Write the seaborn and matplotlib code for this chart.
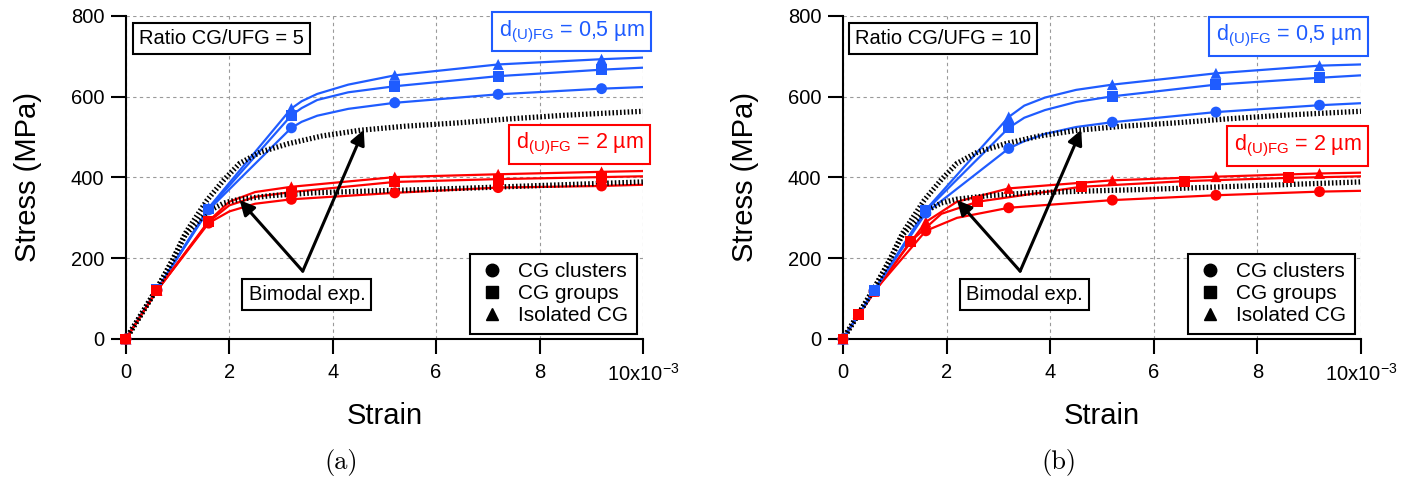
import pandas as pd
import seaborn as sns
import matplotlib.pyplot as plt
import matplotlib.lines as mlines

sns.set_style('ticks')
plt.rcParams['font.family'] = ['Liberation Sans', 'DejaVu Sans']
plt.rcParams['mathtext.fontset'] = 'custom'
plt.rcParams['mathtext.rm'] = 'Liberation Sans'
plt.rcParams['mathtext.it'] = 'Liberation Sans:italic'
for k in ['text.color', 'axes.labelcolor', 'xtick.color', 'ytick.color', 'axes.edgecolor']:
    plt.rcParams[k] = 'black'

BLUE = '#1f5cff'
RED = '#ff0000'
FS = 14.5

# strain in 10^-3, stress in MPa
mark_strain = [0, 0.6, 1.6, 3.2, 5.2, 7.2, 9.2]
b_groups_red_marks = [0, 0.3, 1.3, 2.6, 4.6, 6.6, 8.6]

# bimodal experiment (same curves in both panels)
exp_up_strain = [0, 0.3, 0.6, 0.9, 1.15, 1.57, 1.9, 2.2, 2.6, 3.15, 3.8, 4.53, 5.4, 6.39, 7.4, 8.46, 10]
exp_up_stress = [0, 62, 125, 195, 262, 344, 395, 435, 463, 484, 503, 517, 527, 535, 545, 554, 564]
exp_lo_strain = [0, 0.3, 0.6, 0.9, 1.15, 1.57, 1.9, 2.19, 2.8, 3.63, 4.6, 5.7, 6.7, 7.77, 8.9, 10]
exp_lo_stress = [0, 62, 125, 195, 258, 315, 337, 346, 355, 362, 366, 370, 374, 379, 384, 389]

# (a) ratio CG/UFG = 5
a_blue_strain = [0, 0.6, 1.6, 3.2, 3.4, 3.7, 4.3, 5.2, 7.2, 9.2, 10]
a_blue_clusters = [0, 122, 320, 523, 538, 553, 570, 585, 606, 620, 624]
a_blue_groups = [0, 122, 322, 554, 572, 592, 611, 626, 651, 667, 672]
a_blue_isolated = [0, 122, 325, 571, 589, 607, 630, 653, 680, 693, 697]
a_red_strain = [0, 0.6, 1.6, 2.0, 2.5, 3.2, 5.2, 7.2, 9.2, 10]
a_red_clusters = [0, 120, 287, 316, 335, 346, 362, 375, 379, 382]
a_red_groups = [0, 120, 290, 331, 352, 364, 389, 396, 401, 403]
a_red_isolated = [0, 120, 292, 340, 364, 377, 401, 408, 414, 416]

# (b) ratio CG/UFG = 10
b_blue_strain = [0, 0.6, 1.6, 3.2, 3.5, 3.9, 4.5, 5.2, 7.2, 9.2, 10]
b_blue_clusters = [0, 120, 312, 472, 490, 508, 525, 537, 562, 579, 584]
b_blue_groups = [0, 120, 318, 523, 548, 567, 587, 601, 630, 647, 653]
b_blue_isolated = [0, 120, 320, 550, 578, 598, 617, 630, 658, 677, 680]
b_red_strain = [0, 0.6, 1.6, 2.2, 3.2, 5.2, 7.2, 9.2, 10]
b_red_clusters = [0, 118, 268, 300, 325, 344, 356, 365, 367]
b_red_isolated = [0, 118, 290, 340, 373, 393, 402, 410, 412]
b_red_groups_strain = [0, 0.3, 1.3, 1.9, 2.6, 4.6, 6.6, 8.6, 10]
b_red_groups = [0, 60, 241, 310, 340, 377, 391, 399, 403]

MARKERS = {'CG clusters': 'o', 'CG groups': 's', 'Isolated CG': '^'}
PALETTE = {'0.5': BLUE, '2': RED}


def build(series):
    rows = []
    for d, cfg, xs, ys, marks in series:
        for x, y in zip(xs, ys):
            rows.append(dict(d=d, config=cfg, unit=d + cfg, strain=x, stress=y,
                             marked=x in marks))
    return pd.DataFrame(rows)


def draw_panel(ax, df, ratio_txt, ratio_xy, blue_xy, red_xy):
    sns.lineplot(data=df, x='strain', y='stress', hue='d', units='unit',
                 estimator=None, sort=False, palette=PALETTE, lw=1.6,
                 legend=False, ax=ax, zorder=2)
    for xs, ys in [(exp_up_strain, exp_up_stress), (exp_lo_strain, exp_lo_stress)]:
        ax.plot(xs, ys, color='black', lw=3.8, ls=(0, (0.3, 0.42)), zorder=2.5)
    m = df[df.marked]
    sns.scatterplot(data=m, x='strain', y='stress', hue='d', style='config',
                    markers=MARKERS, palette=PALETTE, s=62, linewidth=0,
                    legend=False, ax=ax, zorder=3, clip_on=False)

    ax.set_xlim(0, 10)
    ax.set_ylim(0, 800)
    ax.set_xticks([0, 2, 4, 6, 8, 10])
    ax.set_xticklabels(['0', '2', '4', '6', '8', r'10x10$^{\mathregular{-3}}$'])
    ax.set_yticks([0, 200, 400, 600, 800])
    ax.tick_params(direction='out', length=10.5, width=1.5, labelsize=FS)
    ax.tick_params(axis='x', pad=7)
    ax.tick_params(axis='y', pad=5)
    for s in ['top', 'right']:
        ax.spines[s].set_visible(False)
    for s in ['left', 'bottom']:
        ax.spines[s].set_linewidth(1.5)
    ax.grid(True, ls=(0, (3, 3)), color='#9a9a9a', lw=0.8)
    ax.set_axisbelow(True)
    ax.set_xlabel('Strain', fontsize=21)
    ax.set_ylabel('Stress (MPa)', fontsize=21)
    ax.xaxis.set_label_coords(0.5, -0.195)
    ax.yaxis.set_label_coords(-0.163, 0.5)

    box = dict(boxstyle='square,pad=0.3', fc='white', lw=1.5)
    ax.text(*ratio_xy, ratio_txt, fontsize=FS, ha='center', va='center',
            bbox=dict(box, ec='black'), zorder=5)
    ax.text(*blue_xy, r'd$_{\mathregular{(U)FG}}$ = 0,5 µm', fontsize=FS + 1,
            color=BLUE, ha='center', va='center', bbox=dict(box, ec=BLUE), zorder=5)
    ax.text(*red_xy, r'd$_{\mathregular{(U)FG}}$ = 2 µm', fontsize=FS + 1,
            color=RED, ha='center', va='center', bbox=dict(box, ec=RED), zorder=5)

    ax.text(3.5, 110, 'Bimodal exp.', fontsize=FS, ha='center', va='center',
            bbox=dict(box, ec='black', pad=0.45), zorder=5)
    for tip in [(2.2, 344), (4.6, 518)]:
        ax.annotate('', xy=tip, xytext=(3.42, 168),
                    arrowprops=dict(arrowstyle='-|>', color='black', lw=2.2,
                                    mutation_scale=22, shrinkA=0, shrinkB=0),
                    zorder=6)

    handles = [mlines.Line2D([], [], color='black', marker=mk, ls='none',
                             markersize=9, label=lab)
               for lab, mk in MARKERS.items()]
    leg = ax.legend(handles=handles, loc='lower right', bbox_to_anchor=(0.988, 0.016),
                    fontsize=FS + 0.5, frameon=True, fancybox=False, framealpha=1,
                    edgecolor='black', handletextpad=0.6, borderpad=0.4,
                    labelspacing=0.15, handlelength=1.3, borderaxespad=0)
    leg.get_frame().set_linewidth(1.5)
    leg.set_zorder(6)


series_a = [
    ('0.5', 'CG clusters', a_blue_strain, a_blue_clusters, mark_strain),
    ('0.5', 'CG groups', a_blue_strain, a_blue_groups, mark_strain),
    ('0.5', 'Isolated CG', a_blue_strain, a_blue_isolated, mark_strain),
    ('2', 'CG clusters', a_red_strain, a_red_clusters, mark_strain),
    ('2', 'Isolated CG', a_red_strain, a_red_isolated, mark_strain),
    ('2', 'CG groups', a_red_strain, a_red_groups, mark_strain),
]
series_b = [
    ('2', 'CG clusters', b_red_strain, b_red_clusters, mark_strain),
    ('2', 'Isolated CG', b_red_strain, b_red_isolated, mark_strain),
    ('0.5', 'CG clusters', b_blue_strain, b_blue_clusters, mark_strain),
    ('0.5', 'Isolated CG', b_blue_strain, b_blue_isolated, mark_strain),
    ('0.5', 'CG groups', b_blue_strain, b_blue_groups, mark_strain),
    ('2', 'CG groups', b_red_groups_strain, b_red_groups, b_groups_red_marks),
]

fig = plt.figure(figsize=(14.23, 4.79), dpi=100)
ax_a = fig.add_axes([0.0885, 0.2923, 0.3633, 0.6743])
ax_b = fig.add_axes([0.5924, 0.2923, 0.3640, 0.6743])

draw_panel(ax_a, build(series_a), 'Ratio CG/UFG = 5', (1.85, 745), (8.62, 761), (8.78, 482))
draw_panel(ax_b, build(series_b), 'Ratio CG/UFG = 10', (1.93, 745), (8.6, 750), (8.78, 478))

fig.text(0.240, 0.035, '(a)', fontsize=19, family='cmr10', ha='center', va='center')
fig.text(0.744, 0.035, '(b)', fontsize=19, family='cmr10', ha='center', va='center')

fig.savefig('out.png', dpi=100)
